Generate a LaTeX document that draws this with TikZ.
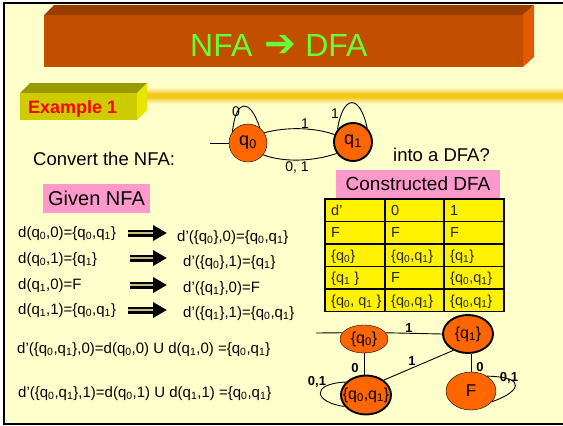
\documentclass[tikz,border=0pt]{standalone}
\usepackage{fontspec}
\setmainfont{Liberation Sans}
\newfontfamily\dejavu{DejaVu Sans}
\usetikzlibrary{shapes.geometric,arrows.meta}
\definecolor{bgc}{HTML}{FFFFCC}
\definecolor{tfront}{RGB}{194,78,0}
\definecolor{ttop}{RGB}{153,61,0}
\definecolor{tright}{RGB}{226,90,0}
\definecolor{tgreen}{RGB}{102,255,51}
\definecolor{efront}{RGB}{204,204,0}
\definecolor{etop}{RGB}{153,153,0}
\definecolor{eright}{RGB}{230,230,0}
\definecolor{pinkc}{HTML}{FF99CC}
\definecolor{stc}{HTML}{FF6600}
\definecolor{goldc}{RGB}{242,185,20}
\definecolor{shaftc}{RGB}{200,190,120}
\newcommand\Sb[1]{\textsubscript{#1}}
\newcommand\fsz[1]{\fontsize{#1}{#1}\selectfont}
\tikzset{
  txt/.style={anchor=base west, inner sep=0, font=\fsz{15}},
  big/.style={anchor=base west, inner sep=0, font=\fsz{18.5}},
  nstate/.style={circle, draw, fill=stc, minimum size=38pt, inner sep=0, font=\fsz{18}},
  dstate/.style={ellipse, draw, fill=stc, inner sep=0, font=\fsz{16}},
  acc/.style={line width=1.9pt},
  elab/.style={inner sep=0, font=\fsz{14}},
  dlab/.style={inner sep=0, font=\fsz{13}\bfseries},
  cell/.style={anchor=base west, inner sep=0, font=\fsz{14.5}, text=black!85},
  fatarr/.style={line width=7pt, -{Triangle[length=14pt,width=15pt]},
     postaction={draw=shaftc, line width=1.8pt, -, shorten >=14pt}},
  edge/.style={line width=0.9pt}
}
\begin{document}
\begin{tikzpicture}[x=1pt,y=-1pt]
\useasboundingbox (0,0) rectangle (563,426);
\fill[white] (0,0) rectangle (563,426);
\fill[bgc] (4,3) rectangle (575,424);
\draw[line width=2.5pt] (4,3) rectangle (575,424);
% title bar
\fill[ttop] (44,15) -- (54,5) -- (534,5) -- (523,15) -- cycle;
\fill[tright] (523,15) -- (534,5) -- (534,57) -- (523,67) -- cycle;
\fill[tfront] (44,15) rectangle (523,67);
\node[anchor=base west, inner sep=0, text=tgreen, font=\fsz{32}] (title) at (190,56) {NFA\hspace{12pt}{\dejavu\fsz{38}➔}\hspace{9pt}DFA};
% brush band
\shade[top color=bgc, bottom color=bgc, middle color=goldc] (147,87) rectangle (563,104);
\fill[goldc!70!yellow, opacity=0.6] (147,93) rectangle (563,99);
% example box
\fill[etop] (20,93) -- (30,83) -- (147,83) -- (137,93) -- cycle;
\fill[eright] (137,93) -- (147,83) -- (147,110) -- (137,120) -- cycle;
\fill[efront] (20,93) rectangle (137,120);
\node[anchor=base west, inner sep=0, text=red, font=\fsz{18}\bfseries] (ex) at (28,113) {Example 1};
% texts
\node[big] (conv) at (33,165) {Convert the NFA:};
\node[big] (into) at (393,161) {into a DFA?};
% NFA
\node[nstate] (q0) at (248,143) {q\Sb{0}};
\node[nstate, acc] (q1) at (353,142) {q\Sb{1}};
\coordinate (ns) at (210,143);
\draw[edge] (ns) -- (q0.west);
\draw[edge] (q0.32) .. controls (285,127) and (313,127) .. (q1.158);
\draw[edge] (q0.-38) .. controls (285,163) and (315,161) .. (q1.-145);
\draw[edge] (q0.144) .. controls (236,98) and (250,98) .. (q0.52);
\draw[edge] (q1.141) .. controls (343,94) and (360,94) .. (q1.45);
\node[elab] (l1) at (236,112) {0};
\node[elab] (l2) at (305,124) {1};
\node[elab] (l3) at (335,114) {1};
\node[elab] (l4) at (297,168) {0, 1};
% pink labels
\node[fill=pinkc, minimum width=107pt, minimum height=29pt, inner sep=0, font=\fsz{20}] (given) at (96.5,198.5) {Given NFA};
\node[fill=pinkc, minimum width=164pt, minimum height=28pt, inner sep=0, font=\fsz{19}] (cons) at (418,184) {Constructed DFA};
% table
\fill[yellow] (325,199) rectangle (504,311.5);
\draw[line width=1.2pt] (325,199) rectangle (504,311.5);
\foreach \yy in {221.5,244,266.5,289} \draw[line width=1.2pt] (325,\yy) -- (504,\yy);
\foreach \xx in {385,444} \draw[line width=1.2pt] (\xx,199) -- (\xx,311.5);
\node[cell] (c11) at (331,215) {d'};
\node[cell] (c12) at (391,215) {0};
\node[cell] (c13) at (450,215) {1};
\node[cell] (c21) at (331,237.5) {F};
\node[cell] (c22) at (391,237.5) {F};
\node[cell] (c23) at (450,237.5) {F};
\node[cell] (c31) at (331,260) {\{q\Sb0\}};
\node[cell] (c32) at (391,260) {\{q\Sb0,q\Sb1\}};
\node[cell] (c33) at (450,260) {\{q\Sb1\}};
\node[cell] (c41) at (331,282.5) {\{q\Sb1 \}};
\node[cell] (c42) at (391,282.5) {F};
\node[cell] (c43) at (450,282.5) {\{q\Sb0,q\Sb1\}};
\node[cell] (c51) at (331,305) {\{q\Sb0, q\Sb1 \}};
\node[cell] (c52) at (391,305) {\{q\Sb0,q\Sb1\}};
\node[cell] (c53) at (450,305) {\{q\Sb0,q\Sb1\}};
% equations
\node[txt] (L1) at (18,237) {d(q\Sb0,0)=\{q\Sb0,q\Sb1\}};
\node[txt] (L2) at (18,263) {d(q\Sb0,1)=\{q\Sb1\}};
\node[txt] (L3) at (18,289) {d(q\Sb1,0)=F};
\node[txt] (L4) at (18,314) {d(q\Sb1,1)=\{q\Sb0,q\Sb1\}};
\node[txt] (R1) at (177,241) {d'(\{q\Sb0\},0)=\{q\Sb0,q\Sb1\}};
\node[txt] (R2) at (183,266) {d'(\{q\Sb0\},1)=\{q\Sb1\}};
\node[txt] (R3) at (183,292) {d'(\{q\Sb1\},0)=F};
\node[txt] (R4) at (183,317) {d'(\{q\Sb1\},1)=\{q\Sb0,q\Sb1\}};
\coordinate (a1s) at (128,233); \coordinate (a1e) at (167,233);
\coordinate (a2s) at (130,258); \coordinate (a2e) at (167,258);
\coordinate (a3s) at (130,285); \coordinate (a3e) at (167,285);
\coordinate (a4s) at (128,310); \coordinate (a4e) at (167,310);
\draw[fatarr] (a1s) -- (a1e);
\draw[fatarr] (a2s) -- (a2e);
\draw[fatarr] (a3s) -- (a3e);
\draw[fatarr] (a4s) -- (a4e);
\node[txt] (B1) at (17,353) {d'(\{q\Sb0,q\Sb1\},0)=d(q\Sb0,0) U d(q\Sb1,0) =\{q\Sb0,q\Sb1\}};
\node[txt] (B2) at (18,397) {d'(\{q\Sb0,q\Sb1\},1)=d(q\Sb0,1) U d(q\Sb1,1) =\{q\Sb0,q\Sb1\}};
% DFA
\node[dstate, minimum width=48pt, minimum height=28pt] (da) at (364,339) {\makebox[0pt]{\{q\Sb0\}}};
\node[dstate, acc, minimum width=50pt, minimum height=38pt] (db) at (468,334) {\makebox[0pt]{\{q\Sb1\}}};
\node[dstate, acc, minimum width=50pt, minimum height=39pt] (dc) at (366,395) {\makebox[0pt]{\{q\Sb0,q\Sb1\}}};
\node[dstate, minimum width=50pt, minimum height=38pt, font=\fsz{17}] (dd) at (471,391) {\makebox[0pt]{F}};
\coordinate (ds) at (316,333);
\draw[edge] (ds) -- (da.164);
\draw[edge] (da.16) -- (db.west);
\draw[edge] (da.south) -- (da.south |- dc.north);
\draw[edge] (db.228) -- (dc.40);
\draw[edge] (dd.north) -- (dd.north |- db.south);
\draw[edge] (dc.147) .. controls (308,384) and (316,403) .. (dc.208);
\draw[edge] (dd.43) .. controls (530,377) and (518,393) .. (dd.-27);
\node[dlab] (m1) at (409,328) {1};
\node[dlab] (m2) at (355,368) {0};
\node[dlab] (m3) at (412,361) {1};
\node[dlab] (m4) at (480,367) {0};
\node[dlab] (m5) at (317,382) {0,1};
\node[dlab] (m6) at (509,378) {0,1};
\end{tikzpicture}
\end{document}
